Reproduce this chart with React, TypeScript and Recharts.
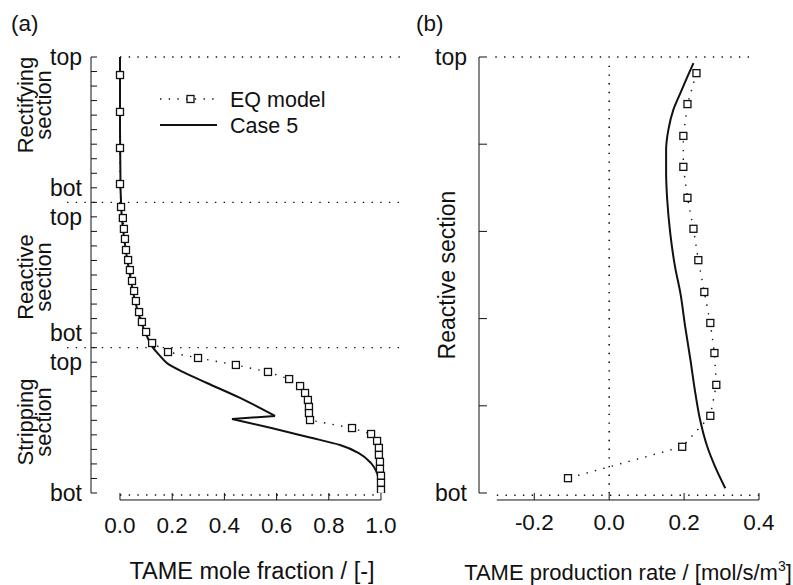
import React from 'react';
import { ScatterChart, Scatter, XAxis, YAxis, ReferenceLine, Legend } from 'recharts';

const FONT = '"Liberation Sans", Arial, Helvetica, sans-serif';
const INK = '#111';
const DOTS = '1.4 7.3';

// ---------- Panel (a): TAME mole fraction along the column ----------
const stageTicksA = [0, 1, 2, 3, 4, 5, 6, 7, 8, 9, 10, 11, 12, 13, 14, 15, 16, 17, 18, 19, 20, 21, 22, 23, 24, 25, 26, 27, 28, 29, 30];
const stageLabelPosA = [0, 9, 11, 19, 21, 30];
const stageLabelTextA = ['top', 'bot', 'top', 'bot', 'top', 'bot'];
const fractionTicks = [0, 0.2, 0.4, 0.6, 0.8, 1.0];

const eqStageA = [1.24, 3.78, 6.26, 8.74, 10.32, 11.08, 11.83, 12.52, 13.28, 13.97, 14.66, 15.41, 16.10, 16.79, 17.55, 18.23, 18.92, 19.68, 20.30, 20.71, 21.19, 21.67, 22.16, 22.64, 23.12, 23.60, 24.08, 24.50, 24.98, 25.53, 25.94, 26.42, 26.90, 27.38, 27.86, 28.34, 28.82, 29.30, 29.79];
const eqFractionA = [0.0, 0.0, 0.0, 0.0, 0.004, 0.011, 0.015, 0.019, 0.023, 0.031, 0.038, 0.046, 0.054, 0.061, 0.073, 0.084, 0.100, 0.123, 0.184, 0.299, 0.444, 0.567, 0.648, 0.690, 0.709, 0.720, 0.724, 0.724, 0.728, 0.889, 0.962, 0.985, 0.992, 0.992, 0.996, 0.996, 1.0, 1.0, 1.0];

const caseStageA = [0, 5, 9, 10, 10.5, 12.5, 14.7, 16.8, 18.2, 19.4, 20, 20.5, 21.06, 21.67, 22.43, 23.46, 24.70, 24.91, 25.53, 26.15, 26.70, 27.25, 27.94, 28.62, 29.31, 30];
const caseFractionA = [0.0, 0.0, 0.002, 0.004, 0.005, 0.016, 0.035, 0.058, 0.08, 0.108, 0.126, 0.15, 0.18, 0.241, 0.333, 0.46, 0.594, 0.429, 0.58, 0.72, 0.843, 0.915, 0.962, 0.985, 0.992, 0.994];
// the Case 5 profile has a sharp kink: index of its tip and of the point it snaps back to
const caseKinkTipA = 16;
const caseKinkBackA = 17;

// ---------- Panel (b): TAME production rate in the reactive section ----------
const positionTicksB = [0, 0.2, 0.4, 0.6, 0.8, 1.0];
const positionLabelPosB = [0, 1];
const positionLabelTextB = ['top', 'bot'];
const rateTicks = [-0.2, 0.0, 0.2, 0.4];

const eqPositionB = [0.037, 0.108, 0.181, 0.252, 0.323, 0.394, 0.466, 0.539, 0.610, 0.679, 0.752, 0.823, 0.894, 0.966];
const eqRateB = [0.233, 0.209, 0.198, 0.198, 0.209, 0.225, 0.238, 0.254, 0.270, 0.281, 0.286, 0.270, 0.195, -0.110];

const casePositionB = [0.014, 0.041, 0.083, 0.122, 0.167, 0.213, 0.266, 0.328, 0.404, 0.482, 0.541, 0.619, 0.695, 0.771, 0.833, 0.894, 0.940, 0.989];
const caseRateB = [0.225, 0.211, 0.190, 0.171, 0.158, 0.152, 0.152, 0.155, 0.163, 0.176, 0.190, 0.203, 0.217, 0.230, 0.243, 0.262, 0.283, 0.310];

const seriesNames = ['EQ model', 'Case 5'];

const eqA = eqStageA.map((s, i) => ({ x: eqFractionA[i], y: s }));
const caseA = caseStageA.map((s, i) => ({ x: caseFractionA[i], y: s }));
const caseA1 = caseA.slice(0, caseKinkTipA + 1);
const caseA2 = caseA.slice(caseKinkTipA, caseKinkBackA + 1);
const caseA3 = caseA.slice(caseKinkBackA);
const eqB = eqPositionB.map((s, i) => ({ x: eqRateB[i], y: s }));
const caseB = casePositionB.map((s, i) => ({ x: caseRateB[i], y: s }));

const SquareMark = (p: any) =>
  p.cx == null ? <g /> : (
    <rect x={p.cx - 3.5} y={p.cy - 3.5} width={7} height={7} fill="#fff" stroke={INK} strokeWidth={1.3} />
  );
const NoMark = () => <g />;

const makeYTick = (pos: number[], text: string[], len: number, gap: number) => (p: any) => {
  const i = pos.indexOf(p.payload.value);
  return (
    <g>
      <line x1={p.x} x2={p.x + len} y1={p.y} y2={p.y} stroke={INK} strokeWidth={1} />
      {i >= 0 && (
        <text x={p.x - gap} y={p.y} dy="0.36em" textAnchor="end" fontSize={23} fill={INK}>
          {text[i]}
        </text>
      )}
    </g>
  );
};

const makeXTick = (labelDy: number) => (p: any) => (
  <g>
    <line x1={p.x} x2={p.x} y1={p.y} y2={p.y + 7} stroke={INK} strokeWidth={1} />
    <text x={p.x} y={p.y + labelDy} textAnchor="middle" fontSize={22.5} fill={INK}>
      {Number(p.payload.value).toFixed(1)}
    </text>
  </g>
);

const YTickA = makeYTick(stageLabelPosA, stageLabelTextA, 6, 9);
const YTickB = makeYTick(positionLabelPosB, positionLabelTextB, 8, 12);
const XTickA = makeXTick(40);
const XTickB = makeXTick(37);

const TitleA = (p: any) => {
  const vb = p.viewBox || { x: 0, y: 0, width: 0, height: 0 };
  return (
    <text x={vb.x + vb.width / 2 + 5} y={vb.y + vb.height - 6} textAnchor="middle" fontSize={23.5} fill={INK}>
      TAME mole fraction / [-]
    </text>
  );
};

const TitleB = (p: any) => {
  const vb = p.viewBox || { x: 0, y: 0, width: 0, height: 0 };
  return (
    <text x={vb.x + vb.width / 2 + 9} y={vb.y + vb.height - 5} textAnchor="middle" fontSize={22} fill={INK}>
      TAME production rate / [mol/s/m<tspan dy={-9} fontSize={14}>3</tspan>
      <tspan dy={9}>]</tspan>
    </text>
  );
};

const LegendA = () => (
  <svg width={190} height={52} style={{ display: 'block', overflow: 'visible' }}>
    <line x1={5} x2={62} y1={13} y2={13} stroke={INK} strokeWidth={1.4} strokeDasharray={DOTS} />
    <rect x={32} y={9.5} width={7} height={7} fill="#fff" stroke={INK} strokeWidth={1.3} />
    <text x={75} y={13} dy="0.36em" fontSize={21.5} fill={INK} fontFamily={FONT}>{seriesNames[0]}</text>
    <line x1={5} x2={62} y1={39} y2={39} stroke={INK} strokeWidth={2} />
    <text x={75} y={39} dy="0.36em" fontSize={21.5} fill={INK} fontFamily={FONT}>{seriesNames[1]}</text>
  </svg>
);

const solidLine = { stroke: INK, strokeWidth: 2, fill: 'none' };
const dottedLine = { stroke: INK, strokeWidth: 1.4, strokeDasharray: DOTS, fill: 'none' };

export default function App() {
  return (
    <div style={{ position: 'absolute', left: 0, top: 0, width: 793, height: 585, background: '#fff', fontFamily: FONT, color: INK }}>
      <div style={{ position: 'absolute', left: 0, top: 0 }}>
        <ScatterChart width={410} height={585} margin={{ top: 57, right: 7, bottom: 0, left: 0 }}>
          <XAxis
            type="number"
            dataKey="x"
            domain={[-0.1111, 1.0843]}
            allowDataOverflow
            ticks={fractionTicks}
            interval={0}
            tickSize={0}
            tickMargin={0}
            axisLine={false}
            tickLine={false}
            tick={XTickA}
            height={92}
            label={TitleA}
          />
          <YAxis
            type="number"
            dataKey="y"
            domain={[0, 30]}
            reversed
            allowDataOverflow
            ticks={stageTicksA}
            interval={0}
            tickSize={0}
            tickMargin={0}
            axisLine={{ stroke: INK, strokeWidth: 1 }}
            tickLine={false}
            tick={YTickA}
            width={91}
          />
          <ReferenceLine segment={[{ x: 0, y: 0 }, { x: 1.0843, y: 0 }]} stroke={INK} strokeWidth={1.4} strokeDasharray={DOTS} ifOverflow="visible" />
          <ReferenceLine segment={[{ x: -0.203, y: 10 }, { x: 1.0843, y: 10 }]} stroke={INK} strokeWidth={1.4} strokeDasharray={DOTS} ifOverflow="visible" />
          <ReferenceLine segment={[{ x: -0.203, y: 20 }, { x: 1.0843, y: 20 }]} stroke={INK} strokeWidth={1.4} strokeDasharray={DOTS} ifOverflow="visible" />
          <ReferenceLine segment={[{ x: 0, y: 30.14 }, { x: 1, y: 30.14 }]} stroke={INK} strokeWidth={1.4} strokeDasharray={DOTS} ifOverflow="visible" />
          <ReferenceLine segment={[{ x: 0, y: 30.48 }, { x: 1, y: 30.48 }]} stroke={INK} strokeWidth={1} ifOverflow="visible" />
          <Scatter name={seriesNames[1]} data={caseA1} shape={NoMark} lineJointType="monotoneY" line={solidLine} isAnimationActive={false} />
          <Scatter name={seriesNames[1]} data={caseA2} shape={NoMark} legendType="none" line={solidLine} isAnimationActive={false} />
          <Scatter name={seriesNames[1]} data={caseA3} shape={NoMark} legendType="none" lineJointType="monotoneY" line={solidLine} isAnimationActive={false} />
          <Scatter name={seriesNames[0]} data={eqA} shape={SquareMark} line={dottedLine} isAnimationActive={false} />
          <Legend
            layout="vertical"
            align="center"
            verticalAlign="middle"
            content={LegendA}
            wrapperStyle={{ position: 'absolute', left: 155, top: 86, width: 190, height: 52 }}
          />
        </ScatterChart>
      </div>

      <div style={{ position: 'absolute', left: 410, top: 0 }}>
        <ScatterChart width={383} height={585} margin={{ top: 57, right: 34, bottom: 0, left: 0 }}>
          <XAxis
            type="number"
            dataKey="x"
            domain={[-0.3476, 0.4]}
            allowDataOverflow
            ticks={rateTicks}
            interval={0}
            tickSize={0}
            tickMargin={0}
            axisLine={false}
            tickLine={false}
            tick={XTickB}
            height={92}
            label={TitleB}
          />
          <YAxis
            type="number"
            dataKey="y"
            domain={[0, 1]}
            reversed
            allowDataOverflow
            ticks={positionTicksB}
            interval={0}
            tickSize={0}
            tickMargin={0}
            axisLine={{ stroke: INK, strokeWidth: 1 }}
            tickLine={false}
            tick={YTickB}
            width={69}
          />
          <ReferenceLine segment={[{ x: -0.304, y: 0 }, { x: 0.385, y: 0 }]} stroke={INK} strokeWidth={1.4} strokeDasharray={DOTS} ifOverflow="visible" />
          <ReferenceLine segment={[{ x: -0.3, y: 1.005 }, { x: 0.4, y: 1.005 }]} stroke={INK} strokeWidth={1.4} strokeDasharray={DOTS} ifOverflow="visible" />
          <ReferenceLine segment={[{ x: 0, y: 0.02 }, { x: 0, y: 1 }]} stroke={INK} strokeWidth={1.6} strokeDasharray={DOTS} ifOverflow="visible" />
          <ReferenceLine segment={[{ x: -0.3, y: 1.016 }, { x: 0.4, y: 1.016 }]} stroke={INK} strokeWidth={1} ifOverflow="visible" />
          <Scatter name={seriesNames[1]} data={caseB} shape={NoMark} lineJointType="monotoneY" line={solidLine} isAnimationActive={false} />
          <Scatter name={seriesNames[0]} data={eqB} shape={SquareMark} line={dottedLine} isAnimationActive={false} />
        </ScatterChart>
      </div>

      <svg width={793} height={585} style={{ position: 'absolute', left: 0, top: 0, pointerEvents: 'none' }} fontFamily={FONT} fill={INK}>
        <text x={11} y={31} fontSize={22.5}>(a)</text>
        <text x={416} y={31} fontSize={22.5}>(b)</text>
        <g fontSize={22} textAnchor="middle">
          <text x={33} y={105} transform="rotate(-90 33 105)">Rectifying</text>
          <text x={51} y={105} transform="rotate(-90 51 105)">section</text>
          <text x={33} y={277} transform="rotate(-90 33 277)">Reactive</text>
          <text x={51} y={277} transform="rotate(-90 51 277)">section</text>
          <text x={33} y={422} transform="rotate(-90 33 422)">Stripping</text>
          <text x={51} y={422} transform="rotate(-90 51 422)">section</text>
        </g>
        <text x={455} y={275} fontSize={23} textAnchor="middle" transform="rotate(-90 455 275)">Reactive section</text>
      </svg>
    </div>
  );
}
